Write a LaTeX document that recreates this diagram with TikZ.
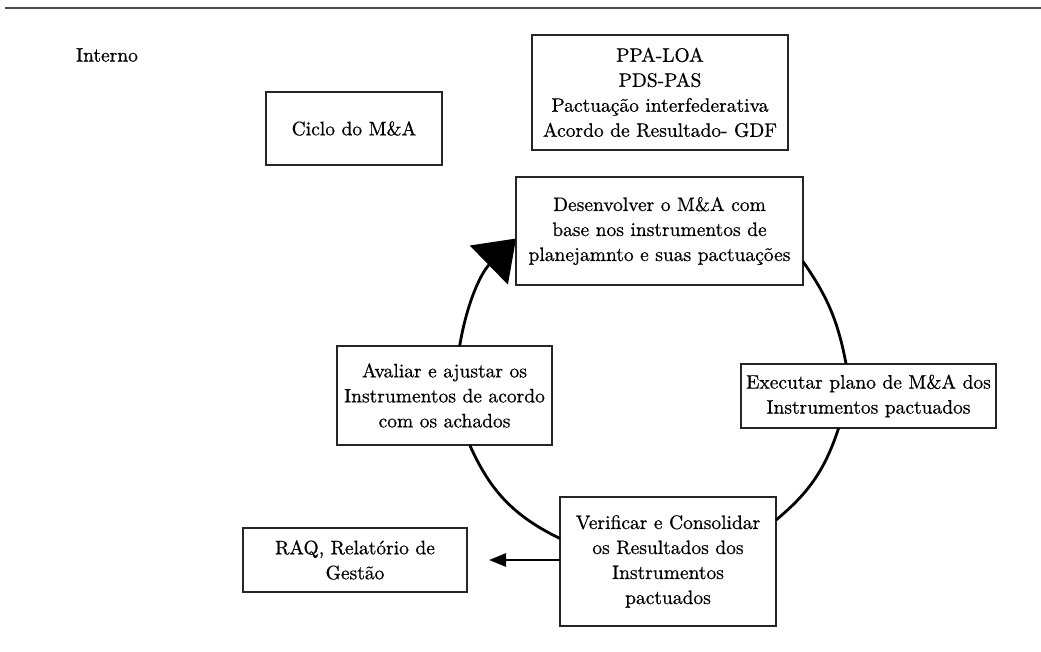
\documentclass[tikz,border=0pt]{standalone}
\usepackage{fontspec}
\setmainfont{lmroman10-regular.otf}[FakeBold=0.6]
\usetikzlibrary{arrows.meta}

\tikzset{
  lbl/.style={font=\fontsize{19.5}{25}\selectfont\bfseries, align=center, inner sep=0pt, outer sep=0pt},
  box/.style={lbl, draw=black!85, line width=1.2pt, fill=white},
  cyc/.style={line width=2.8pt, black},
}

\begin{document}
\begin{tikzpicture}[x=1pt,y=1pt]
  \useasboundingbox (0,0) rectangle (1041,-652);

  % header rule
  \draw[line width=1.5pt, black!70] (5,-8) -- (1041,-8);

  \node[lbl] (interno) at (107,-55) {Interno};

  \node[box, minimum width=176pt, minimum height=73pt] (ciclo) at (354,-128.5) {Ciclo do M\&A};
  \node[box, minimum width=256pt, minimum height=115pt] (ppa) at (660,-92.5)
    {PPA-LOA\\PDS-PAS\\Pactuação interfederativa\\Acordo de Resultado- GDF};

  % the cycle
  \node[box, minimum width=287pt, minimum height=108pt] (desen) at (659.5,-231)
    {Desenvolver o M\&A com\\base nos instrumentos de\\planejamnto e suas pactuações};
  \node[box, minimum width=255pt, minimum height=64pt] (exec) at (868.5,-396)
    {Executar plano de M\&A dos\\Instrumentos pactuados};
  \node[box, minimum width=216pt, minimum height=129pt] (verif) at (668,-561.5)
    {Verificar e Consolidar\\os Resultados dos\\Instrumentos\\pactuados};
  \node[box, minimum width=215pt, minimum height=99pt] (aval) at (444.5,-395.5)
    {Avaliar e ajustar os\\Instrumentos de acordo\\com os achados};

  \node[box, minimum width=224pt, minimum height=64pt] (raq) at (355,-560)
    {RAQ, Relatório de\\Gestão};

  \draw[cyc] (desen.-12) to[bend left=12] (exec.125);
  \draw[cyc] (exec.-133) to[bend left=16] (verif.21.5);
  \draw[cyc] (verif.168.7) to[bend left=20] (aval.-63.7);
  \draw[cyc, -{Triangle[length=38pt,width=54pt]}] (aval.73.7) to[bend left=18] (desen.-177.2);

  % output of the verification step
  \draw[line width=2.7pt, -{Triangle[length=17pt,width=13pt]}]
    (verif.west |- raq.east) -- ([xshift=22pt]raq.east);
\end{tikzpicture}
\end{document}
